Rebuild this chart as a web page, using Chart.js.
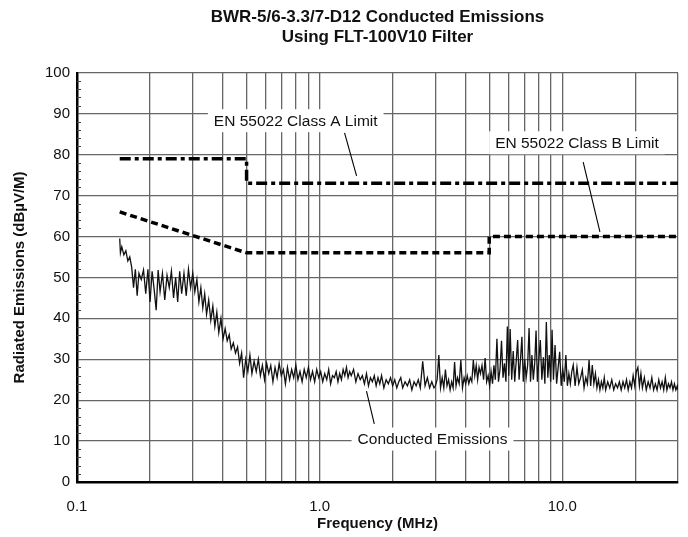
<!DOCTYPE html>
<html>
<head>
<meta charset="utf-8">
<script src="https://cdn.jsdelivr.net/npm/chart.js@4/dist/chart.umd.min.js"></script>
<style>
  html, body { margin: 0; padding: 0; background: #fff; }
  #wrap { width: 688px; height: 537px; }
</style>
</head>
<body>
<div id="wrap"><canvas id="c" width="688" height="537"></canvas></div>
<script>
// ---------- DATA ----------
const titleLines = ['BWR-5/6-3.3/7-D12 Conducted Emissions', 'Using FLT-100V10 Filter'];
const xAxisTitle = 'Frequency (MHz)';
const yAxisTitle = 'Radiated Emissions (dBµV/M)';

// vertical grid positions (MHz) and labelled ticks
const xGridValues = [0.1,0.2,0.3,0.4,0.5,0.6,0.7,0.8,0.9,1,2,3,4,5,6,7,8,9,10,20,30];
const xTickValues = [0.1, 1, 10];
const xTickLabels = ['0.1', '1.0', '10.0'];
const yTickStep = 10;

// EN 55022 limits
const classAFreq = [0.15, 0.5, 0.5, 30];
const classAValues = [79, 79, 73, 73];
const classBFreq = [0.15, 0.5, 5, 5, 30];
const classBValues = [66, 56, 56, 60, 60];

// Conducted emissions trace (MHz, dBµV)
const emissionFreq = [
  0.150,0.151,0.153,0.156,0.159,0.162,0.165,0.168,0.171,0.174,
  0.177,0.180,0.184,0.188,0.192,0.196,0.200,0.204,0.208,0.212,
  0.216,0.220,0.225,0.230,0.235,0.240,0.245,0.250,0.255,0.260,
  0.265,0.270,0.276,0.282,0.288,0.294,0.300,
  0.306,0.312,0.318,0.324,0.330,0.336,0.342,0.349,0.356,0.363,
  0.370,0.377,0.384,0.392,0.400,0.408,0.416,0.424,0.432,0.441,
  0.450,0.459,0.468,0.477,0.486,0.496,0.506,0.516,0.526,0.537,
  0.548,0.559,0.570,0.581,0.593,0.605,0.617,0.629,0.642,0.655,
  0.668,0.681,0.695,0.709,0.723,0.737,0.752,0.767,0.782,0.798,
  0.814,0.830,0.847,0.864,0.881,0.899,0.917,0.935,0.954,0.973,
  0.992,
  1.01,1.03,1.05,1.07,1.09,1.11,1.13,1.15,1.17,1.19,
  1.21,1.23,1.25,1.27,1.29,1.31,1.33,1.35,1.38,1.41,
  1.44,1.47,1.50,1.53,1.56,1.59,1.62,1.65,1.68,1.71,
  1.74,1.77,1.80,1.84,1.88,1.92,1.96,2.00,2.04,2.08,
  2.12,2.16,2.20,2.25,2.30,2.35,2.40,2.45,2.50,2.55,
  2.60,2.66,2.72,2.78,2.84,2.90,2.96,
  3.00,3.05,3.10,3.15,3.20,3.25,3.30,3.35,3.40,3.45,
  3.50,3.55,3.60,3.65,3.70,3.76,3.82,3.88,3.94,4.00,
  4.06,4.12,4.18,4.24,4.30,4.36,4.42,4.48,4.54,4.60,
  4.67,4.74,4.81,4.88,4.95,5.02,5.09,5.16,5.23,5.30,
  5.38,5.46,5.54,5.62,5.70,5.78,5.86,5.94,6.02,6.10,
  6.19,6.28,6.37,6.46,6.55,6.64,6.73,6.82,6.91,7.00,
  7.10,7.20,7.30,7.40,7.50,7.60,7.70,7.80,7.90,8.00,
  8.12,8.24,8.36,8.48,8.60,8.72,8.84,8.96,9.08,9.20,
  9.34,9.48,9.62,9.76,9.90,10.05,10.2,10.35,10.5,10.65,
  10.8,10.95,11.1,11.3,11.5,11.7,11.9,12.1,12.3,12.5,
  12.7,12.9,13.1,13.3,13.5,13.7,13.9,14.1,14.3,14.5,
  14.7,14.9,15.1,15.4,15.7,16.0,16.3,16.6,16.9,17.2,
  17.5,17.8,18.1,18.4,18.7,19.0,19.3,19.6,19.9,20.2,
  20.5,20.8,21.1,21.4,21.8,22.2,22.6,23.0,23.4,23.8,
  24.2,24.6,25.0,25.4,25.8,26.2,26.6,27.0,27.4,27.8,
  28.2,28.6,29.0,29.4,29.8,30.0
];
const emissionValues = [
  59.5,56.0,57.5,55.5,56.5,54.0,55.0,52.5,47.5,52.0,
  45.5,51.0,49.5,51.8,46.0,52.0,44.0,51.5,47.0,42.0,
  51.8,46.5,51.0,44.5,50.5,47.5,51.5,45.0,50.0,44.0,
  51.5,46.0,51.0,45.5,52.0,47.5,51.0,
  46.5,49.5,44.0,47.5,42.5,46.0,41.0,44.5,39.5,43.0,
  38.0,41.5,36.5,40.0,35.0,37.5,34.5,36.0,32.5,34.0,
  31.5,33.0,29.0,31.5,25.5,30.0,27.0,31.0,26.5,29.5,
  27.0,30.0,26.0,28.5,25.0,29.0,26.5,28.5,24.5,28.0,
  25.5,29.0,26.0,27.5,24.0,28.0,25.0,27.5,25.5,28.5,
  25.0,27.0,24.5,27.5,25.5,28.0,25.0,27.0,24.5,27.5,
  25.5,
  27.0,24.5,26.5,25.0,27.5,24.0,26.0,25.5,27.0,24.5,
  26.5,25.0,27.5,26.0,28.0,25.5,27.0,26.0,27.5,24.5,
  26.5,25.0,26.0,24.0,26.5,23.5,25.5,24.5,26.0,23.5,
  25.5,24.0,26.0,23.0,25.0,24.0,25.5,23.5,25.0,23.0,
  24.5,25.5,23.0,24.5,23.5,25.0,22.5,24.5,23.5,25.0,
  23.0,29.5,23.5,25.5,23.0,24.5,23.0,
  23.5,25.0,31.0,23.0,25.5,23.0,27.5,23.5,25.0,22.5,
  24.5,23.0,29.3,23.5,25.5,24.0,29.8,23.0,25.5,24.0,
  26.0,24.0,25.5,24.5,29.8,26.0,28.5,25.0,28.0,26.5,
  28.5,25.0,30.3,24.5,26.0,23.5,27.0,24.0,28.5,25.0,
  35.0,24.5,27.5,34.5,25.5,29.0,24.5,38.0,26.0,37.4,
  25.0,32.0,24.5,29.5,34.7,25.0,30.0,35.5,24.5,30.0,
  25.5,28.5,37.6,24.5,31.0,25.0,29.0,37.0,24.5,29.5,
  34.7,25.0,30.5,24.0,39.1,25.5,31.0,24.5,37.2,25.0,
  33.5,24.0,28.0,31.8,23.5,27.5,24.5,31.0,23.5,26.5,
  24.0,27.0,28.6,23.5,28.0,24.0,25.5,27.4,23.0,25.5,
  24.0,29.8,23.5,28.6,24.0,26.5,23.0,25.0,22.5,24.5,
  23.0,25.5,22.5,24.5,23.0,25.0,22.5,24.0,23.0,24.5,
  22.5,24.5,23.0,25.0,22.5,24.5,23.0,26.0,23.5,27.0,
  28.0,23.5,26.5,23.0,25.5,22.5,24.5,23.0,25.5,22.5,
  24.0,22.5,25.0,23.0,24.5,22.5,25.5,22.5,24.0,23.0,
  24.5,22.5,24.0,22.5,23.5,22.5
];

// callout labels: text, label centre (MHz, dB), leader line from/to (MHz, dB)
const calloutTexts = ['EN 55022 Class A Limit', 'EN 55022 Class B Limit', 'Conducted Emissions'];
const calloutCenters = [[0.797, 88.3], [11.5, 82.9], [2.92, 10.5]];
const calloutLeaders = [[[1.267, 85.3], [1.42, 74.8]], [[12.2, 78.2], [14.3, 61.1]], [[1.56, 22.2], [1.68, 14.2]]];

// ---------- CHART ----------
const FONT = '"Liberation Sans", Arial, Helvetica, sans-serif';
const toXY = (xs, ys) => xs.map((x, i) => ({ x: x, y: ys[i] }));

const calloutPlugin = {
  id: 'callouts',
  afterDatasetsDraw(chart) {
    const { ctx, scales: { x, y } } = chart;
    ctx.save();
    ctx.font = '15.5px ' + FONT;
    ctx.textAlign = 'center';
    ctx.textBaseline = 'middle';
    calloutTexts.forEach((t, i) => {
      const cx = x.getPixelForValue(calloutCenters[i][0]);
      const cy = y.getPixelForValue(calloutCenters[i][1]);
      const w = ctx.measureText(t).width + 12;
      const h = 23;
      ctx.fillStyle = '#fff';
      ctx.fillRect(cx - w / 2, cy - h / 2, w, h);
      ctx.fillStyle = '#111';
      ctx.fillText(t, cx, cy + 1);
      const [a, b] = calloutLeaders[i];
      ctx.strokeStyle = '#000';
      ctx.lineWidth = 1.1;
      ctx.beginPath();
      ctx.moveTo(x.getPixelForValue(a[0]), y.getPixelForValue(a[1]));
      ctx.lineTo(x.getPixelForValue(b[0]), y.getPixelForValue(b[1]));
      ctx.stroke();
    });
    ctx.restore();
  }
};

const minorTickPlugin = {
  id: 'minorTicks',
  afterDatasetsDraw(chart) {
    const { ctx, scales: { y }, chartArea } = chart;
    ctx.save();
    ctx.strokeStyle = '#444';
    ctx.lineWidth = 1;
    for (let v = y.min; v <= y.max; v += 2) {
      if (v % 10 === 0) continue;
      const py = Math.round(y.getPixelForValue(v)) + 0.5;
      ctx.beginPath();
      ctx.moveTo(chartArea.left, py);
      ctx.lineTo(chartArea.left + 4, py);
      ctx.stroke();
    }
    ctx.restore();
  }
};

new Chart(document.getElementById('c'), {
  type: 'scatter',
  data: {
    datasets: [
      {
        label: 'Conducted Emissions',
        data: toXY(emissionFreq, emissionValues),
        showLine: true, pointRadius: 0, borderColor: '#111', borderWidth: 1.3,
        tension: 0, order: 3
      },
      {
        label: 'EN 55022 Class B Limit',
        data: toXY(classBFreq, classBValues),
        showLine: true, pointRadius: 0, borderColor: '#000', borderWidth: 3.5,
        borderDash: [7, 4], borderCapStyle: 'butt', order: 2
      },
      {
        label: 'EN 55022 Class A Limit',
        data: toXY(classAFreq, classAValues),
        showLine: true, pointRadius: 0, borderColor: '#000', borderWidth: 3.5,
        borderDash: [11, 4, 4, 4], borderCapStyle: 'butt', order: 1
      }
    ]
  },
  options: {
    responsive: false,
    animation: false,
    events: [],
    layout: { padding: { left: 7, right: 10, top: 0, bottom: 2 } },
    plugins: {
      legend: { display: false },
      tooltip: { enabled: false },
      title: {
        display: true,
        text: titleLines,
        fullSize: false,
        color: '#111',
        font: { family: FONT, size: 17, weight: 'bold', lineHeight: 1.2 },
        padding: { top: 7, bottom: 25 }
      }
    },
    scales: {
      x: {
        type: 'logarithmic',
        min: 0.1, max: 30,
        afterBuildTicks: (s) => { s.ticks = xGridValues.map(v => ({ value: v })); },
        afterFit: (s) => { s.height = 53; s.paddingRight = 0; },
        ticks: {
          autoSkip: false, maxRotation: 0, padding: 16, color: '#111',
          font: { family: FONT, size: 15 },
          callback: (v) => { const i = xTickValues.indexOf(v); return i >= 0 ? xTickLabels[i] : ''; }
        },
        grid: { color: '#666', lineWidth: 1.3, drawTicks: false },
        border: { display: true, color: '#000', width: 2.5 },
        title: { display: true, text: xAxisTitle, color: '#111', font: { family: FONT, size: 15, weight: 'bold' }, padding: { top: 2, bottom: 2 } }
      },
      y: {
        min: 0, max: 100,
        afterFit: (s) => { s.width = 70; },
        ticks: { stepSize: yTickStep, padding: 7, color: '#111', font: { family: FONT, size: 15 } },
        grid: { color: '#666', lineWidth: 1.3, drawTicks: false },
        border: { display: true, color: '#000', width: 2.5 },
        title: { display: true, text: yAxisTitle, color: '#111', font: { family: FONT, size: 15, weight: 'bold' }, padding: { top: 4, bottom: 4 } }
      }
    }
  },
  plugins: [minorTickPlugin, calloutPlugin]
});
</script>
</body>
</html>
